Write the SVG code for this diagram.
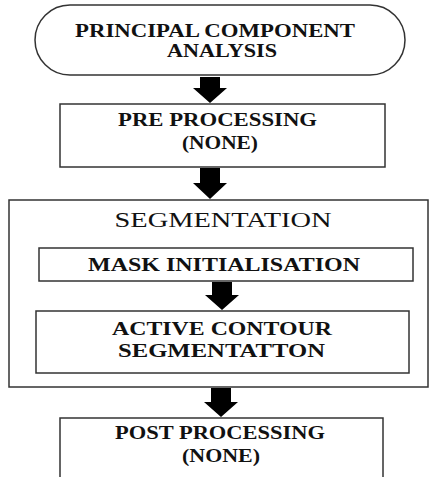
<svg xmlns="http://www.w3.org/2000/svg" xmlns:xlink="http://www.w3.org/1999/xlink" width="429" height="477" viewBox="0 0 429 477">
<style>
.box{fill:#fff;stroke:#333;stroke-width:1.5}
.b{font-family:"Liberation Serif","Times New Roman",serif;font-weight:bold;font-size:18px;fill:#111;text-anchor:middle}
.r{font-family:"Liberation Serif","Times New Roman",serif;font-size:21px;fill:#111;text-anchor:middle}
.arr{fill:#000}
</style>
<defs>
<filter id="soft" x="-20%" y="-20%" width="140%" height="140%"><feGaussianBlur stdDeviation="0.6"/></filter>
</defs>
<rect width="429" height="477" fill="#fff"/>
<g id="segmentation">
<rect class="box" x="9" y="200" width="419" height="187"/>
<text class="r" x="223" y="227" textLength="217" lengthAdjust="spacingAndGlyphs">SEGMENTATION</text>
</g>
<g id="pca">
<rect class="box" x="35" y="5" width="370" height="70" rx="35" ry="35"/>
<text class="b" x="215" y="36.5" textLength="280" lengthAdjust="spacingAndGlyphs">PRINCIPAL COMPONENT</text>
<text class="b" x="222" y="57" textLength="110" lengthAdjust="spacingAndGlyphs">ANALYSIS</text>
</g>
<g id="preprocessing">
<rect class="box" x="60" y="104" width="325" height="63"/>
<text class="b" x="217.5" y="126" textLength="199" lengthAdjust="spacingAndGlyphs">PRE PROCESSING</text>
<text class="b" x="220" y="149" textLength="76" lengthAdjust="spacingAndGlyphs">(NONE)</text>
</g>
<g id="mask">
<rect class="box" x="39" y="248" width="374" height="33"/>
<text class="b" x="224" y="271" textLength="272" lengthAdjust="spacingAndGlyphs">MASK INITIALISATION</text>
</g>
<g id="active">
<rect class="box" x="36" y="311" width="373" height="62"/>
<text class="b" x="222" y="335" textLength="220" lengthAdjust="spacingAndGlyphs">ACTIVE CONTOUR</text>
<text class="b" x="221.5" y="357" textLength="207" lengthAdjust="spacingAndGlyphs">SEGMENTATTON</text>
</g>
<g id="postprocessing">
<rect class="box" x="60" y="418" width="323" height="70"/>
<text class="b" x="220" y="439" textLength="210" lengthAdjust="spacingAndGlyphs">POST PROCESSING</text>
<text class="b" x="221" y="462" textLength="78" lengthAdjust="spacingAndGlyphs">(NONE)</text>
</g>
<g id="connectors" filter="url(#soft)">
<path class="arr" d="M200,77 H220 V88 H227 L210,103 L193,88 H200 Z"/>
<path class="arr" d="M200,168 H220 V183 H227 L210,199 L193,183 H200 Z"/>
<path class="arr" d="M212,282 H232 V295 H239 L222,310 L205,295 H212 Z"/>
<path class="arr" d="M211,388 H231 V402 H238 L221,417 L204,402 H211 Z"/>
</g>
</svg>
